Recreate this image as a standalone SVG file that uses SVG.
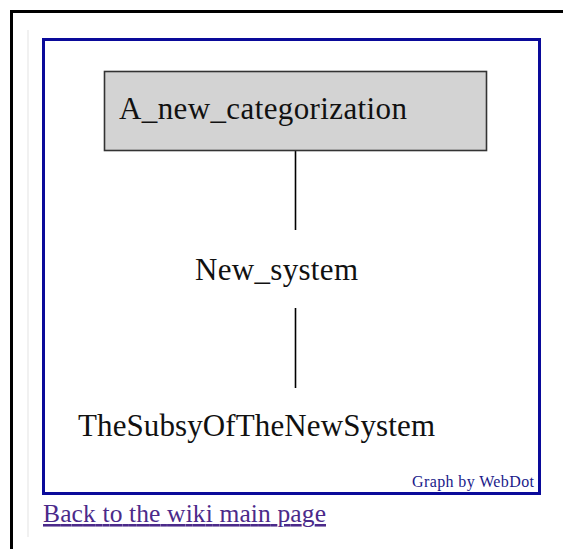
<svg xmlns="http://www.w3.org/2000/svg" width="563" height="549" viewBox="0 0 563 549">
<style>
.lbl{font-family:"Liberation Serif","Times New Roman",serif;font-size:31px;fill:#111}
.edge{stroke:#000;stroke-width:1.6;fill:none}
</style>
<rect x="0" y="0" width="563" height="549" fill="#fff"/>
<path d="M11.5,549 V11.5 H563" fill="none" stroke="#000" stroke-width="3"/>
<path d="M28,30 V537" stroke="#ececec" stroke-width="1.5" fill="none"/>
<rect x="43.5" y="39.5" width="496" height="454" fill="#fff" stroke="#0a0a9a" stroke-width="3"/>
<g id="connectors">
<line class="edge" x1="295.5" y1="150" x2="295.5" y2="230"/>
<line class="edge" x1="295.5" y1="308" x2="295.5" y2="388"/>
</g>
<g id="A_new_categorization">
<rect x="104.5" y="71.5" width="382" height="79" fill="#d3d3d3" stroke="#333" stroke-width="1.6"/>
<text class="lbl" x="119" y="119" textLength="288" lengthAdjust="spacing">A_new_categorization</text>
</g>
<g id="New_system">
<text class="lbl" x="195" y="280" textLength="163" lengthAdjust="spacing">New_system</text>
</g>
<g id="TheSubsyOfTheNewSystem">
<text class="lbl" x="78" y="436" textLength="357" lengthAdjust="spacing">TheSubsyOfTheNewSystem</text>
</g>
<text x="412" y="487" font-family="Liberation Serif,serif" font-size="16" textLength="122" lengthAdjust="spacing" fill="#1a1a8a">Graph by WebDot</text>
<text x="43" y="522" font-family="Liberation Serif,serif" font-size="25.5" textLength="283" lengthAdjust="spacing" fill="#4b2a8a" text-decoration="underline">Back to the wiki main page</text>
</svg>
